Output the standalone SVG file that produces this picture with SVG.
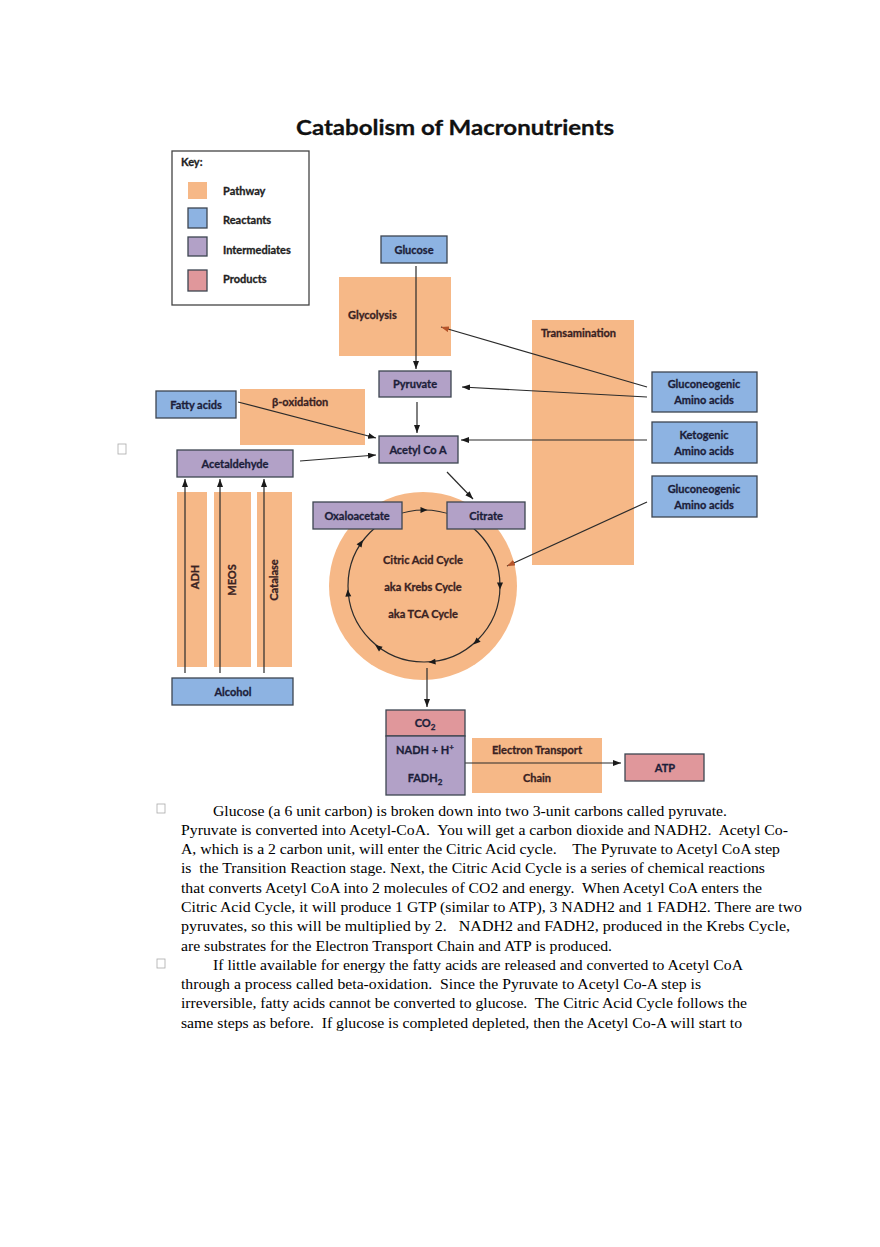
<svg xmlns="http://www.w3.org/2000/svg" width="880" height="1247" viewBox="0 0 880 1247">
<defs>
<style>
.pw{fill:#f6b887}
.re{fill:#8db3e2;stroke:#3d4551;stroke-width:1.3}
.im{fill:#b2a1c7;stroke:#3d4551;stroke-width:1.3}
.pr{fill:#e0979b;stroke:#3d4551;stroke-width:1.3}
.lb{font-family:Lato,"Open Sans","Liberation Sans",sans-serif;font-weight:bold;font-size:11px;fill:#1c1e3a;stroke:#1c1e3a;stroke-width:0.3;text-anchor:middle}
.lp{font-family:Lato,"Open Sans","Liberation Sans",sans-serif;font-weight:bold;font-size:11px;fill:#3a2222;stroke:#3a2222;stroke-width:0.3}
.kl{font-family:Lato,"Open Sans","Liberation Sans",sans-serif;font-weight:bold;font-size:11px;fill:#222;stroke:#222;stroke-width:0.3}
.cn{fill:none;stroke:#2b2b2b;stroke-width:1.2}
.bd{font-family:"Liberation Serif","Times New Roman",serif;font-size:15px;fill:#000;white-space:pre}
.bx{fill:#fff;stroke:#aaa;stroke-width:0.8}
</style>
<marker id="ah" viewBox="0 0 8 6" refX="8" refY="3" markerWidth="8" markerHeight="6" markerUnits="userSpaceOnUse" orient="auto"><path d="M0,0 L8,3 L0,6 z" fill="#1a1a1a"/></marker>
<marker id="ahr" viewBox="0 0 8 6" refX="8" refY="3" markerWidth="8" markerHeight="6" markerUnits="userSpaceOnUse" orient="auto"><path d="M0,0 L8,3 L0,6 z" fill="#b5542a"/></marker>
<path id="tri" d="M-3.5,-3 L3.5,0 L-3.5,3 z" fill="#1a1a1a"/>
</defs>
<rect width="880" height="1247" fill="#fff"/>

<text x="455" y="135" font-family="Lato,'Open Sans','Liberation Sans',sans-serif" font-weight="bold" font-size="21" fill="#111" stroke="#111" stroke-width="0.3" text-anchor="middle" textLength="318" lengthAdjust="spacingAndGlyphs">Catabolism of Macronutrients</text>

<g id="key">
<rect x="172" y="151" width="137" height="154" fill="#fff" stroke="#444" stroke-width="1.3"/>
<text class="kl" x="181" y="166">Key:</text>
<rect class="pw" x="188" y="182" width="19" height="17"/>
<rect class="re" x="188" y="208" width="19" height="20"/>
<rect class="im" x="188" y="237" width="19" height="19"/>
<rect class="pr" x="188" y="270" width="19" height="21"/>
<text class="kl" x="223" y="195">Pathway</text>
<text class="kl" x="223" y="224">Reactants</text>
<text class="kl" x="223" y="254">Intermediates</text>
<text class="kl" x="223" y="283">Products</text>
</g>

<g id="glycolysis"><rect class="pw" x="339" y="277" width="112" height="79"/><text class="lp" x="348" y="319">Glycolysis</text></g>
<g id="transamination"><rect class="pw" x="532" y="320" width="102" height="245"/><text class="lp" x="541" y="337">Transamination</text></g>
<g id="beta-oxidation"><rect class="pw" x="240" y="389" width="125" height="56"/><text class="lp" x="272" y="406">β-oxidation</text></g>
<g id="adh"><rect class="pw" x="177" y="492" width="30" height="175"/><text class="lp" transform="translate(199,577) rotate(-90)" text-anchor="middle">ADH</text></g>
<g id="meos"><rect class="pw" x="214" y="492" width="37" height="175"/><text class="lp" transform="translate(236,580) rotate(-90)" text-anchor="middle">MEOS</text></g>
<g id="catalase"><rect class="pw" x="257" y="492" width="35" height="175"/><text class="lp" transform="translate(278,580) rotate(-90)" text-anchor="middle">Catalase</text></g>
<g id="citric-acid-cycle">
<circle class="pw" cx="423" cy="586" r="94"/>
<text class="lp" x="423" y="564" text-anchor="middle">Citric Acid Cycle</text>
<text class="lp" x="423" y="591" text-anchor="middle">aka Krebs Cycle</text>
<text class="lp" x="423" y="618" text-anchor="middle">aka TCA Cycle</text>
</g>
<g id="etc"><rect class="pw" x="472" y="738" width="130" height="55"/><text class="lp" x="537" y="754" text-anchor="middle">Electron Transport</text><text class="lp" x="537" y="782" text-anchor="middle">Chain</text></g>

<g id="connectors">
<line class="cn" x1="416" y1="266" x2="416" y2="369" marker-end="url(#ah)"/>
<line class="cn" x1="417" y1="402" x2="417" y2="433" marker-end="url(#ah)"/>
<line class="cn" x1="238" y1="402" x2="376" y2="438" marker-end="url(#ah)"/>
<line class="cn" x1="300" y1="461" x2="376" y2="455" marker-end="url(#ah)"/>
<line class="cn" x1="447" y1="472" x2="473" y2="499" marker-end="url(#ah)"/>
<line class="cn" x1="647" y1="387" x2="441" y2="327" marker-end="url(#ahr)"/>
<line class="cn" x1="647" y1="397" x2="462" y2="387" marker-end="url(#ah)"/>
<line class="cn" x1="647" y1="440" x2="461" y2="440" marker-end="url(#ah)"/>
<line class="cn" x1="647" y1="502" x2="507" y2="566" marker-end="url(#ahr)"/>
<line class="cn" x1="185" y1="673" x2="185" y2="479" marker-end="url(#ah)"/>
<line class="cn" x1="220" y1="673" x2="220" y2="479" marker-end="url(#ah)"/>
<line class="cn" x1="264" y1="673" x2="264" y2="479" marker-end="url(#ah)"/>
<line class="cn" x1="427" y1="668" x2="427" y2="707" marker-end="url(#ah)"/>
<line class="cn" x1="465" y1="763" x2="621" y2="763" marker-end="url(#ah)"/>
<circle class="cn" cx="424" cy="586" r="76"/>
<use href="#tri" transform="translate(500,586) rotate(90)"/>
<use href="#tri" transform="translate(476,642) rotate(137)"/>
<use href="#tri" transform="translate(432,662) rotate(174)"/>
<use href="#tri" transform="translate(378,647) rotate(217)"/>
<use href="#tri" transform="translate(348,593) rotate(265)"/>
<use href="#tri" transform="translate(361,543) rotate(304)"/>
<use href="#tri" transform="translate(424,510) rotate(0)"/>
</g>

<g id="glucose"><rect class="re" x="381" y="236" width="66" height="27"/><text class="lb" x="414" y="254">Glucose</text></g>
<g id="pyruvate"><rect class="im" x="379" y="371" width="72" height="26"/><text class="lb" x="415" y="388">Pyruvate</text></g>
<g id="fatty-acids"><rect class="re" x="156" y="391" width="80" height="27"/><text class="lb" x="196" y="409">Fatty acids</text></g>
<g id="acetyl-coa"><rect class="im" x="379" y="436" width="79" height="27"/><text class="lb" x="418" y="454">Acetyl Co A</text></g>
<g id="acetaldehyde"><rect class="im" x="177" y="450" width="116" height="27"/><text class="lb" x="235" y="468">Acetaldehyde</text></g>
<g id="gluconeogenic-1"><rect class="re" x="652" y="372" width="105" height="40"/><text class="lb" x="704" y="388">Gluconeogenic</text><text class="lb" x="704" y="404">Amino acids</text></g>
<g id="ketogenic"><rect class="re" x="652" y="422" width="105" height="41"/><text class="lb" x="704" y="439">Ketogenic</text><text class="lb" x="704" y="455">Amino acids</text></g>
<g id="gluconeogenic-2"><rect class="re" x="652" y="476" width="105" height="41"/><text class="lb" x="704" y="493">Gluconeogenic</text><text class="lb" x="704" y="509">Amino acids</text></g>
<g id="oxaloacetate"><rect class="im" x="313" y="502" width="89" height="27"/><text class="lb" x="357" y="520">Oxaloacetate</text></g>
<g id="citrate"><rect class="im" x="447" y="502" width="78" height="27"/><text class="lb" x="486" y="520">Citrate</text></g>
<g id="alcohol"><rect class="re" x="172" y="678" width="121" height="27"/><text class="lb" x="233" y="696">Alcohol</text></g>
<g id="co2"><rect class="pr" x="386" y="710" width="79" height="26"/><text class="lb" x="425" y="727">CO<tspan font-size="8" dy="3">2</tspan></text></g>
<g id="nadh-fadh2"><rect class="im" x="386" y="736" width="79" height="59"/><text class="lb" x="425" y="754">NADH + H<tspan font-size="8" dy="-4">+</tspan></text><text class="lb" x="425" y="782">FADH<tspan font-size="8" dy="3">2</tspan></text></g>
<g id="atp"><rect class="pr" x="625" y="754" width="79" height="27"/><text class="lb" x="665" y="772">ATP</text></g>

<g id="notes">
<rect class="bx" x="118" y="444" width="8" height="10"/>
<rect class="bx" x="157" y="804" width="8" height="9"/>
<rect class="bx" x="157" y="959" width="8" height="9"/>
<text class="bd" x="213" y="816" textLength="514" lengthAdjust="spacingAndGlyphs">Glucose (a 6 unit carbon) is broken down into two 3-unit carbons called pyruvate.</text>
<text class="bd" x="181" y="835" textLength="607" lengthAdjust="spacingAndGlyphs">Pyruvate is converted into Acetyl-CoA.  You will get a carbon dioxide and NADH2.  Acetyl Co-</text>
<text class="bd" x="181" y="854" textLength="599" lengthAdjust="spacingAndGlyphs">A, which is a 2 carbon unit, will enter the Citric Acid cycle.    The Pyruvate to Acetyl CoA step</text>
<text class="bd" x="181" y="873" textLength="584" lengthAdjust="spacingAndGlyphs">is  the Transition Reaction stage. Next, the Citric Acid Cycle is a series of chemical reactions</text>
<text class="bd" x="181" y="893" textLength="581" lengthAdjust="spacingAndGlyphs">that converts Acetyl CoA into 2 molecules of CO2 and energy.  When Acetyl CoA enters the</text>
<text class="bd" x="181" y="912" textLength="621" lengthAdjust="spacingAndGlyphs">Citric Acid Cycle, it will produce 1 GTP (similar to ATP), 3 NADH2 and 1 FADH2. There are two</text>
<text class="bd" x="181" y="931" textLength="609" lengthAdjust="spacingAndGlyphs">pyruvates, so this will be multiplied by 2.   NADH2 and FADH2, produced in the Krebs Cycle,</text>
<text class="bd" x="181" y="951" textLength="431" lengthAdjust="spacingAndGlyphs">are substrates for the Electron Transport Chain and ATP is produced.</text>
<text class="bd" x="213" y="970" textLength="530" lengthAdjust="spacingAndGlyphs">If little available for energy the fatty acids are released and converted to Acetyl CoA</text>
<text class="bd" x="181" y="989" textLength="520" lengthAdjust="spacingAndGlyphs">through a process called beta-oxidation.  Since the Pyruvate to Acetyl Co-A step is</text>
<text class="bd" x="181" y="1008" textLength="566" lengthAdjust="spacingAndGlyphs">irreversible, fatty acids cannot be converted to glucose.  The Citric Acid Cycle follows the</text>
<text class="bd" x="181" y="1028" textLength="561" lengthAdjust="spacingAndGlyphs">same steps as before.  If glucose is completed depleted, then the Acetyl Co-A will start to</text>
</g>
</svg>
